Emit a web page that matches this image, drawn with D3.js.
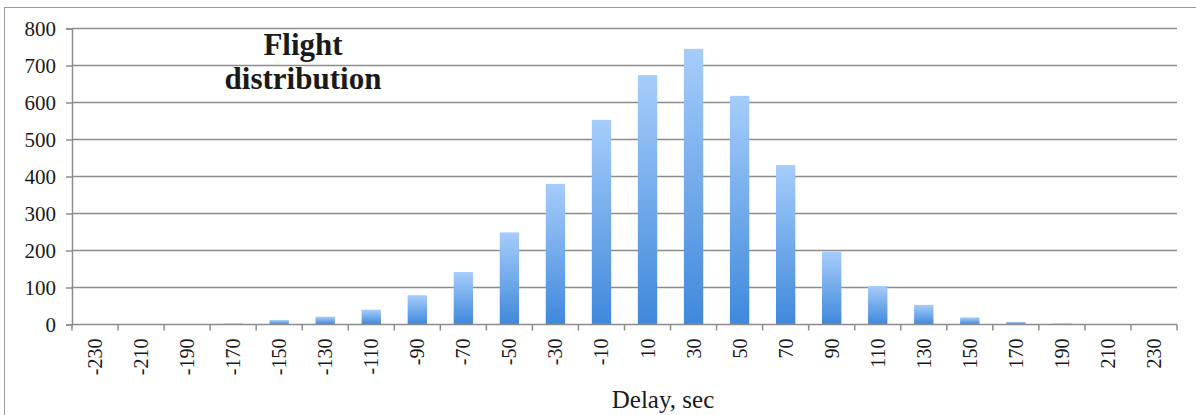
<!DOCTYPE html>
<html>
<head>
<meta charset="utf-8">
<script src="https://cdn.jsdelivr.net/npm/d3@7"></script>
<style>
  body { margin: 0; background: #fff; }
  svg { display: block; }
  text { font-family: "Liberation Serif", "Times New Roman", serif; fill: #1a1a1a; }
</style>
</head>
<body>
<svg width="1196" height="415"></svg>
<script>
var delays = [-230, -210, -190, -170, -150, -130, -110, -90, -70, -50, -30, -10,
              10, 30, 50, 70, 90, 110, 130, 150, 170, 190, 210, 230];
var flights = [0, 0, 1, 3, 12, 21, 40, 79, 142, 249, 380, 553,
               674, 745, 618, 431, 197, 104, 53, 19, 7, 3, 0, 0];
var yTicks = [0, 100, 200, 300, 400, 500, 600, 700, 800];

var svg = d3.select("svg"),
    margin = {top: 28.5, right: 19, bottom: 90.5, left: 72},
    width = 1196 - margin.left - margin.right,
    height = 415 - margin.top - margin.bottom;

// outer frame
svg.append("rect")
    .attr("x", 4.5).attr("y", 7.5)
    .attr("width", 1200).attr("height", 420)
    .attr("fill", "none")
    .attr("stroke", "#9a9a9a")
    .attr("stroke-width", 1);

var defs = svg.append("defs");
var grad = defs.append("linearGradient")
    .attr("id", "barGrad")
    .attr("x1", 0).attr("y1", 0).attr("x2", 0).attr("y2", 1);
grad.append("stop").attr("offset", "0%").attr("stop-color", "#a6cdfb");
grad.append("stop").attr("offset", "100%").attr("stop-color", "#3f88db");

var g = svg.append("g")
    .attr("transform", "translate(" + margin.left + "," + margin.top + ")");

var x = d3.scaleBand()
    .domain(delays)
    .range([0, width])
    .paddingInner(0.58)
    .paddingOuter(0.29);

var y = d3.scaleLinear()
    .domain([0, 800])
    .range([height, 0]);

// gridlines
g.append("g")
    .selectAll("line")
    .data(yTicks.slice(1))
    .join("line")
    .attr("x1", 0).attr("x2", width)
    .attr("y1", y).attr("y2", y)
    .attr("stroke", "#8c8c8c")
    .attr("stroke-width", 1.5);

// bars
g.append("g")
    .selectAll("rect")
    .data(delays)
    .join("rect")
    .attr("x", function(d) { return x(d); })
    .attr("width", x.bandwidth())
    .attr("y", function(d, i) { return y(flights[i]); })
    .attr("height", function(d, i) { return height - y(flights[i]); })
    .attr("fill", "url(#barGrad)");

// y axis
var yAxis = g.append("g")
    .call(d3.axisLeft(y).tickValues(yTicks).tickSize(6).tickPadding(10));
yAxis.select(".domain").attr("stroke", "#8c8c8c").attr("stroke-width", 1.5);
yAxis.selectAll(".tick line").attr("stroke", "#8c8c8c").attr("stroke-width", 1.5);
yAxis.selectAll(".tick text")
    .attr("font-size", 21)
    .attr("font-family", null)
    .attr("fill", "#1a1a1a");

// x axis: ticks at band boundaries
var step = x.step();
var boundaries = d3.range(delays.length + 1);
var xg = g.append("g").attr("transform", "translate(0," + height + ")");
xg.append("line")
    .attr("x1", 0).attr("x2", width)
    .attr("stroke", "#8c8c8c")
    .attr("stroke-width", 1.5);
xg.selectAll(".bt")
    .data(boundaries)
    .join("line")
    .attr("class", "bt")
    .attr("x1", function(i) { return i * step; })
    .attr("x2", function(i) { return i * step; })
    .attr("y1", 0).attr("y2", 6)
    .attr("stroke", "#8c8c8c")
    .attr("stroke-width", 1.5);
xg.selectAll("text")
    .data(delays)
    .join("text")
    .attr("transform", function(d) {
      return "translate(" + (x(d) + x.bandwidth() / 2 + 7) + ",14) rotate(-90)";
    })
    .attr("text-anchor", "end")
    .attr("font-size", 20)
    .text(function(d) { return d; });

// axis title
svg.append("text")
    .attr("x", 663)
    .attr("y", 408)
    .attr("text-anchor", "middle")
    .attr("font-size", 25)
    .text("Delay, sec");

// chart title
var title = svg.append("text")
    .attr("text-anchor", "middle")
    .attr("font-size", 31)
    .attr("font-weight", "bold")
    .attr("fill", "#000");
title.append("tspan").attr("x", 303).attr("y", 55).text("Flight");
title.append("tspan").attr("x", 303).attr("y", 89).text("distribution");
</script>
</body>
</html>
